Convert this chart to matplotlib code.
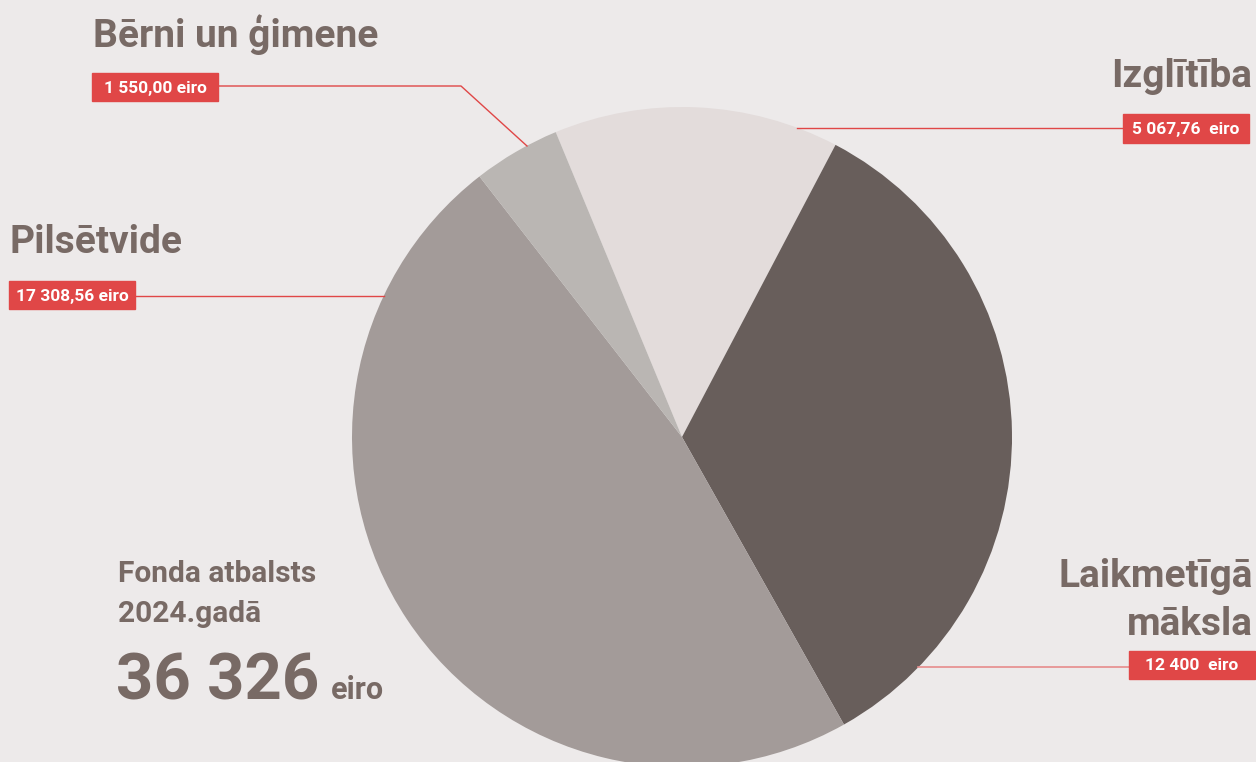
import matplotlib.pyplot as plt
from matplotlib.patches import Rectangle

plt.rcParams['font.family'] = ['Roboto', 'DejaVu Sans']

# data (in drawing order, clockwise from the top)
categories = ['Izglītība', 'Laikmetīgā\nmāksla', 'Pilsētvide', 'Bērni un ģimene']
values = [5067.76, 12400.00, 17308.56, 1550.00]
amount_labels = ['5 067,76  eiro', '12 400  eiro', '17 308,56 eiro', '1 550,00 eiro']
colors = ['#e3dcdb', '#685e5b', '#a39b99', '#bab6b3']
total_text = '36 326'

bg = '#edeaea'
txt = '#786a65'
red = '#e04747'

W, H = 1256, 762
fig = plt.figure(figsize=(W / 100, H / 100), dpi=100, facecolor=bg)
ax = fig.add_axes([0, 0, 1, 1])
ax.set_facecolor(bg)

# y axis is inverted so coordinates are pixels from top-left;
# that flips the pie, so visual clockwise == counterclock=True here
ax.pie(values, colors=colors, center=(682, 437), radius=330,
       startangle=-112.5, counterclock=True,
       wedgeprops=dict(linewidth=0))
ax.set_xlim(0, W)
ax.set_ylim(H, 0)
ax.set_aspect('equal')
ax.axis('off')


def tag(x0, y0, w, h, s):
    ax.add_patch(Rectangle((x0, y0), w, h, color=red, zorder=5))
    ax.text(x0 + w / 2, y0 + h / 2 + 1, s, color='white', fontsize=12.5,
            fontweight='bold', ha='center', va='center', zorder=6)


title_kw = dict(color=txt, fontsize=28, fontweight='bold', va='baseline')

# Bērni un ģimene
ax.text(93, 47, categories[3], ha='left', **title_kw)
ax.plot([218, 461, 527], [86, 86, 146], color=red, lw=1, zorder=4)
tag(92, 73, 126, 28, amount_labels[3])

# Izglītība
ax.text(1252, 87, categories[0], ha='right', **title_kw)
ax.plot([797, 1123], [128, 128], color=red, lw=1, zorder=4)
tag(1123, 114, 126, 29, amount_labels[0])

# Pilsētvide
ax.text(10, 253, categories[2], ha='left', **title_kw)
ax.plot([135, 384], [296, 296], color=red, lw=1, zorder=4)
tag(9, 281, 126, 28, amount_labels[2])

# Laikmetīgā māksla
l1, l2 = categories[1].split('\n')
ax.text(1253, 587, l1, ha='right', **title_kw)
ax.text(1253, 635, l2, ha='right', **title_kw)
ax.plot([918, 1129], [667, 667], color='#e68c8c', lw=1.2, zorder=4)
tag(1129, 651, 126, 28, amount_labels[1])

# total
ax.text(118, 582, 'Fonda atbalsts', color=txt, fontsize=21.5,
        fontweight='bold', va='baseline')
ax.text(118, 622, '2024.gadā', color=txt, fontsize=21.5,
        fontweight='bold', va='baseline')
big = ax.text(116, 699, total_text, color=txt, fontsize=47,
              fontweight='bold', va='baseline')
fig.canvas.draw()
bb = big.get_window_extent()
ax.text(bb.x1 + 11, 699, 'eiro', color=txt, fontsize=22, fontweight='bold',
        va='baseline')

fig.savefig('out.png', dpi=100, facecolor=bg)
